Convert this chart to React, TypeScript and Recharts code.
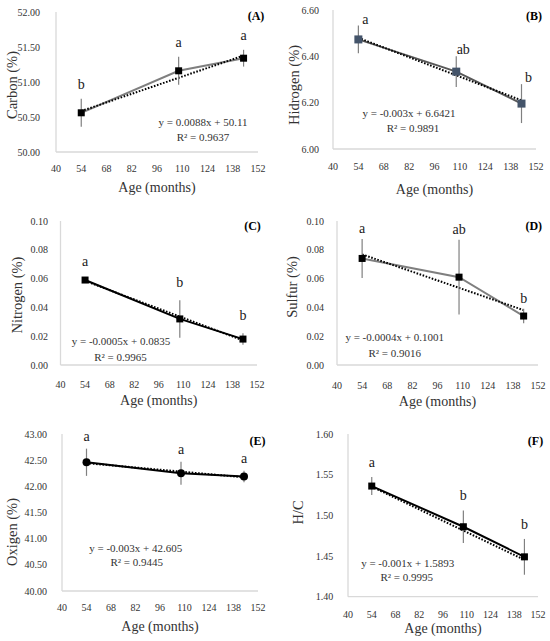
import { ErrorBar, Label, LabelList, Line, LineChart, XAxis, YAxis } from 'recharts'

const ages = [54, 108, 144]
const ageTicks = [40, 54, 68, 82, 96, 110, 124, 138, 152]

const carbon = [50.56, 51.16, 51.34]
const carbonErr = [0.2, 0.2, 0.12]
const carbonTrend = [50.585, 51.377]
const carbonLetters = ['b', 'a', 'a']
const carbonTicks = [50, 50.5, 51, 51.5, 52]

const hydrogen = [6.473, 6.334, 6.196]
const hydrogenErr = [0.06, 0.066, 0.084]
const hydrogenTrend = [6.48, 6.21]
const hydrogenLetters = ['a', 'ab', 'b']
const hydrogenTicks = [6.0, 6.2, 6.4, 6.6]

const nitrogen = [0.059, 0.032, 0.018]
const nitrogenErr = [0.001, 0.013, 0.004]
const nitrogenTrend = [0.0584, 0.0171]
const nitrogenLetters = ['a', 'b', 'b']
const nitrogenTicks = [0, 0.02, 0.04, 0.06, 0.08, 0.1]

const sulfur = [0.074, 0.061, 0.034]
const sulfurErr = [0.0135, 0.026, 0.005]
const sulfurTrend = [0.0768, 0.0381]
const sulfurLetters = ['a', 'ab', 'b']
const sulfurTicks = [0, 0.02, 0.04, 0.06, 0.08, 0.1]

const oxygen = [42.46, 42.25, 42.19]
const oxygenErr = [0.26, 0.22, 0.11]
const oxygenTrend = [42.443, 42.173]
const oxygenLetters = ['a', 'a', 'a']
const oxygenTicks = [40, 40.5, 41, 41.5, 42, 42.5, 43]

const hc = [1.536, 1.486, 1.449]
const hcErr = [0.011, 0.02, 0.022]
const hcTrend = [1.5353, 1.4453]
const hcLetters = ['a', 'b', 'b']
const hcTicks = [1.4, 1.45, 1.5, 1.55, 1.6]

const serif = "'Liberation Serif', 'Times New Roman', serif"
const ink = '#333333'

function buildRows(values: number[], errs: number[], trend: number[], letters: string[]) {
  return ages.map((age, i) => ({
    age,
    value: values[i],
    err: errs[i],
    top: values[i] + errs[i],
    trend: i === 0 ? trend[0] : i === ages.length - 1 ? trend[1] : null,
    letter: letters[i],
  }))
}

type PanelDef = {
  x0: number
  y0: number
  w: number
  h: number
  left: number
  right: number
  top: number
  bottom: number
  xTitleOff: number
  xTickMargin: number
  yTickGap: number
  yTitle: string
  yTitleX: number
  yTitleY: number
  eq: string
  r2: string
  eqX: number
  eqY: number
  r2X: number
  r2Y: number
  tag: string
  tagX: number
  lineColor: string
  markerColor: string
  marker: 'square' | 'circle'
  markerSize: number
  letterDx: number
  letterDy: number
  ticks: number[]
  rows: ReturnType<typeof buildRows>
}

const panels: PanelDef[] = [
  {
    x0: 0, y0: 0, w: 275, h: 210, left: 56, right: 258, top: 12, bottom: 152,
    xTitleOff: 40, xTickMargin: 13, yTickGap: 16,
    yTitle: 'Carbon (%)', yTitleX: 11.5, yTitleY: 85,
    eq: 'y = 0.0088x + 50.11', r2: 'R² = 0.9637', eqX: 203, eqY: 126, r2X: 203, r2Y: 141,
    tag: '(A)', tagX: 256, lineColor: '#7f7f7f', markerColor: '#000', marker: 'square', markerSize: 7,
    letterDx: 0, letterDy: 10, ticks: carbonTicks,
    rows: buildRows(carbon, carbonErr, carbonTrend, carbonLetters),
  },
  {
    x0: 275, y0: 0, w: 275, h: 210, left: 58, right: 261, top: 10, bottom: 149,
    xTitleOff: 45, xTickMargin: 14, yTickGap: 14,
    yTitle: 'Hidrogen (%)', yTitleX: 19, yTitleY: 85,
    eq: 'y = -0.003x + 6.6421', r2: 'R² = 0.9891', eqX: 134, eqY: 117, r2X: 138, r2Y: 132,
    tag: '(B)', tagX: 259, lineColor: '#595959', markerColor: '#44546a', marker: 'square', markerSize: 8,
    letterDx: 7, letterDy: 2, ticks: hydrogenTicks,
    rows: buildRows(hydrogen, hydrogenErr, hydrogenTrend, hydrogenLetters),
  },
  {
    x0: 0, y0: 210, w: 275, h: 215, left: 60.5, right: 257, top: 11, bottom: 155,
    xTitleOff: 40, xTickMargin: 16, yTickGap: 12.5,
    yTitle: 'Nitrogen (%)', yTitleX: 17, yTitleY: 85,
    eq: 'y = -0.0005x + 0.0835', r2: 'R² = 0.9965', eqX: 121, eqY: 135, r2X: 120.5, r2Y: 150.7,
    tag: '(C)', tagX: 252.5, lineColor: '#000', markerColor: '#000', marker: 'square', markerSize: 7,
    letterDx: 0, letterDy: 13, ticks: nitrogenTicks,
    rows: buildRows(nitrogen, nitrogenErr, nitrogenTrend, nitrogenLetters),
  },
  {
    x0: 275, y0: 210, w: 275, h: 215, left: 62, right: 263, top: 11, bottom: 155,
    xTitleOff: 41, xTickMargin: 17, yTickGap: 13,
    yTitle: 'Sulfur (%)', yTitleX: 16.7, yTitleY: 77,
    eq: 'y = -0.0004x + 0.1001', r2: 'R² = 0.9016', eqX: 119.7, eqY: 131.3, r2X: 119.7, r2Y: 146.7,
    tag: '(D)', tagX: 258.8, lineColor: '#7f7f7f', markerColor: '#000', marker: 'square', markerSize: 7,
    letterDx: 0, letterDy: 6, ticks: sulfurTicks,
    rows: buildRows(sulfur, sulfurErr, sulfurTrend, sulfurLetters),
  },
  {
    x0: 0, y0: 425, w: 275, h: 216, left: 62, right: 258, top: 9, bottom: 166,
    xTitleOff: 40, xTickMargin: 13, yTickGap: 15,
    yTitle: 'Oxigen (%)', yTitleX: 12, yTitleY: 107,
    eq: 'y = -0.003x + 42.605', r2: 'R² = 0.9445', eqX: 135.8, eqY: 126.7, r2X: 136.7, r2Y: 141.3,
    tag: '(E)', tagX: 257.5, lineColor: '#000', markerColor: '#000', marker: 'circle', markerSize: 8,
    letterDx: 0, letterDy: 8, ticks: oxygenTicks,
    rows: buildRows(oxygen, oxygenErr, oxygenTrend, oxygenLetters),
  },
  {
    x0: 275, y0: 425, w: 275, h: 216, left: 73, right: 263, top: 9, bottom: 171.7,
    xTitleOff: 36, xTickMargin: 13.7, yTickGap: 14.7,
    yTitle: 'H/C', yTitleX: 22.5, yTitleY: 87.5,
    eq: 'y = -0.001x + 1.5893', r2: 'R² = 0.9995', eqX: 132.7, eqY: 141.7, r2X: 131.7, r2Y: 155.7,
    tag: '(F)', tagX: 260.5, lineColor: '#000', markerColor: '#000', marker: 'square', markerSize: 7,
    letterDx: 0, letterDy: 10, ticks: hcTicks,
    rows: buildRows(hc, hcErr, hcTrend, hcLetters),
  },
]

function ChartPanel({ p }: { p: PanelDef }) {
  const s = p.markerSize
  const markerDot = (props: any) => {
    const { cx, cy, index } = props
    if (cx == null || cy == null) return <g key={index} />
    return p.marker === 'circle' ? (
      <circle key={index} cx={cx} cy={cy} r={s / 2} fill={p.markerColor} />
    ) : (
      <rect key={index} x={cx - s / 2} y={cy - s / 2} width={s} height={s} fill={p.markerColor} />
    )
  }
  const letterLabel = (props: any) => (
    <text
      key={props.index}
      x={Number(props.x) + p.letterDx}
      y={Number(props.y) - p.letterDy}
      textAnchor="middle"
      fontSize={14}
      style={{ fontFamily: serif }}
      fill="#1a1a1a"
    >
      {props.value}
    </text>
  )
  const domain = [p.ticks[0], p.ticks[p.ticks.length - 1]]
  const tickStyle = { fontSize: 10, fill: ink, fontFamily: serif, style: { fontFamily: serif } }

  return (
    <div style={{ position: 'absolute', left: p.x0, top: p.y0 }}>
      <LineChart
        width={p.w}
        height={p.h}
        data={p.rows}
        margin={{ top: p.top, right: p.w - p.right, left: 0, bottom: p.h - p.bottom - p.xTitleOff }}
      >
        <XAxis
          dataKey="age"
          type="number"
          domain={[40, 152]}
          ticks={ageTicks}
          interval={0}
          height={p.xTitleOff}
          axisLine={{ stroke: '#d9d9d9', strokeWidth: 1.3 }}
          tickLine={false}
          tickSize={0}
          tickMargin={p.xTickMargin}
          tick={tickStyle}
        >
          <Label
            value="Age (months)"
            position="insideBottom"
            offset={0}
            fontSize={14}
            fill={ink}
            style={{ fontFamily: serif }}
          />
        </XAxis>
        <YAxis
          type="number"
          domain={domain}
          ticks={p.ticks}
          interval={0}
          allowDataOverflow
          width={p.left}
          axisLine={{ stroke: '#d9d9d9', strokeWidth: 1.3 }}
          tickLine={false}
          tickSize={0}
          tickMargin={p.yTickGap}
          tickFormatter={(v: number) => v.toFixed(2)}
          tick={tickStyle}
        >
          <Label
            content={() => (
              <text
                x={p.yTitleX}
                y={p.yTitleY}
                transform={`rotate(-90 ${p.yTitleX} ${p.yTitleY})`}
                textAnchor="middle"
                dominantBaseline="central"
                fontSize={14.5}
                style={{ fontFamily: serif }}
                fill={ink}
              >
                {p.yTitle}
              </text>
            )}
          />
        </YAxis>
        <Line dataKey="value" stroke={p.lineColor} strokeWidth={2} dot={false} activeDot={false} isAnimationActive={false} />
        <Line
          dataKey="trend"
          stroke="#000"
          strokeWidth={2}
          strokeDasharray="1.6 1.6"
          connectNulls
          dot={false}
          activeDot={false}
          isAnimationActive={false}
        />
        <Line dataKey="value" stroke="none" dot={markerDot} activeDot={false} isAnimationActive={false}>
          <ErrorBar dataKey="err" width={0} stroke="#808080" strokeWidth={1.2} direction="y" />
        </Line>
        <Line dataKey="top" stroke="none" dot={false} activeDot={false} isAnimationActive={false}>
          <LabelList dataKey="letter" content={letterLabel} />
        </Line>
        <text x={p.eqX} y={p.eqY} textAnchor="middle" fontSize={11} style={{ fontFamily: serif }} fill={ink}>
          {p.eq}
        </text>
        <text x={p.r2X} y={p.r2Y} textAnchor="middle" fontSize={11} style={{ fontFamily: serif }} fill={ink}>
          {p.r2}
        </text>
        <text x={p.tagX} y={19.5} textAnchor="middle" fontSize={12} fontWeight="bold" style={{ fontFamily: serif }} fill="#000">
          {p.tag}
        </text>
      </LineChart>
    </div>
  )
}

export default function App() {
  return (
    <div style={{ position: 'absolute', left: 0, top: 0, width: 550, height: 641, background: '#fff' }}>
      {panels.map((p) => (
        <ChartPanel key={p.tag} p={p} />
      ))}
    </div>
  )
}
